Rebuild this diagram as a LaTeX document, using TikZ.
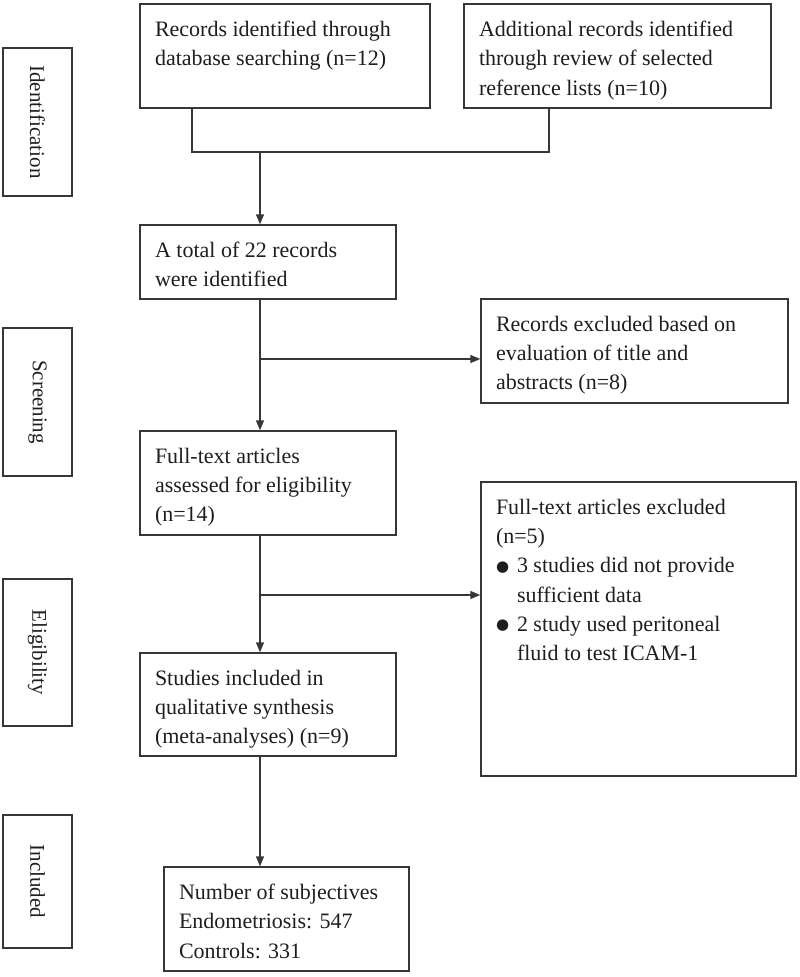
\documentclass[tikz,border=0pt]{standalone}
\usepackage{fontspec}
\setmainfont{Liberation Serif}
\newfontfamily\symfont{DejaVu Sans}
\usetikzlibrary{arrows.meta}
\definecolor{ln}{RGB}{55,55,55}
\definecolor{tx}{RGB}{30,30,30}
\newcommand\btxt[3]{\parbox[c][#2][t]{#1}{\raggedright #3}}
\newcommand\bul{\raisebox{1.5pt}{\symfont\fontsize{15}{15}\selectfont ●}}
\begin{document}
\begin{tikzpicture}[x=1pt,y=-1pt,
  box/.style={draw=ln, line width=1.4pt, inner xsep=15pt, inner ysep=17pt, text=tx,
              font=\fontsize{22}{29.3}\selectfont},
  phase/.style={draw=ln, line width=1.4pt, inner sep=0pt, text=tx, rotate=-90,
              font=\fontsize{21}{25}\selectfont},
  arr/.style={draw=ln, line width=1.4pt, -{Triangle[length=10pt,width=8pt]}},
  conn/.style={draw=ln, line width=1.4pt}]
\useasboundingbox (0,0) rectangle (800,977);

% phase labels
\node[phase, minimum width=148pt, minimum height=69pt] (pid) at (37.5,122) {Identification};
\node[phase, minimum width=148pt, minimum height=69pt] (psc) at (37.5,402) {Screening};
\node[phase, minimum width=147pt, minimum height=69pt] (pel) at (37.5,652.5) {Eligibility};
\node[phase, minimum width=133pt, minimum height=69pt] (pin) at (37.5,881.5) {Included};

% main boxes
\node[box] (b1) at (285,56) {\btxt{260pt}{70pt}{Records identified through\\database searching (n=12)}};
\node[box] (b2) at (617.5,56) {\btxt{277pt}{70pt}{Additional records identified\\through review of selected\\reference lists (n=10)}};
\node[box] (b3) at (268,262) {\btxt{226pt}{40pt}{A total of 22 records\\were identified}};
\node[box] (b4) at (268,483) {\btxt{226pt}{70pt}{Full-text articles\\assessed for eligibility\\(n=14)}};
\node[box] (b5) at (268,704.5) {\btxt{226pt}{69pt}{Studies included in\\qualitative synthesis\\(meta-analyses) (n=9)}};
\node[box] (b6) at (286.5,919) {\btxt{215pt}{70pt}{Number of subjectives\\Endometriosis: 547\\Controls: 331}};
\node[box] (e1) at (634.5,351) {\btxt{277pt}{70pt}{Records excluded based on\\evaluation of title and\\abstracts (n=8)}};
\node[box] (e2) at (638.5,629) {\btxt{285pt}{260pt}{Full-text articles excluded\\(n=5)\\
  \makebox[21pt][l]{\bul}3 studies did not provide\\
  \hspace*{21pt}sufficient data\\
  \makebox[21pt][l]{\bul}2 study used peritoneal\\
  \hspace*{21pt}fluid to test ICAM-1}};

% connectors
\coordinate (jl) at (192,152);
\coordinate (jr) at (549,152);
\coordinate (jm) at (260,152);
\coordinate (s1) at (260,359);
\coordinate (s2) at (260,595);

\draw[conn] (b1.south -| jl) -- (jl) -- (jr) -- (b2.south -| jr);
\draw[arr] (jm) -- (b3.north -| jm);
\draw[arr] (b3.south -| jm) -- (b4.north -| jm);
\draw[arr] (s1) -- (e1.west |- s1);
\draw[arr] (b4.south -| jm) -- (b5.north -| jm);
\draw[arr] (s2) -- (e2.west |- s2);
\draw[arr] (b5.south -| jm) -- (b6.north -| jm);
\end{tikzpicture}
\end{document}
